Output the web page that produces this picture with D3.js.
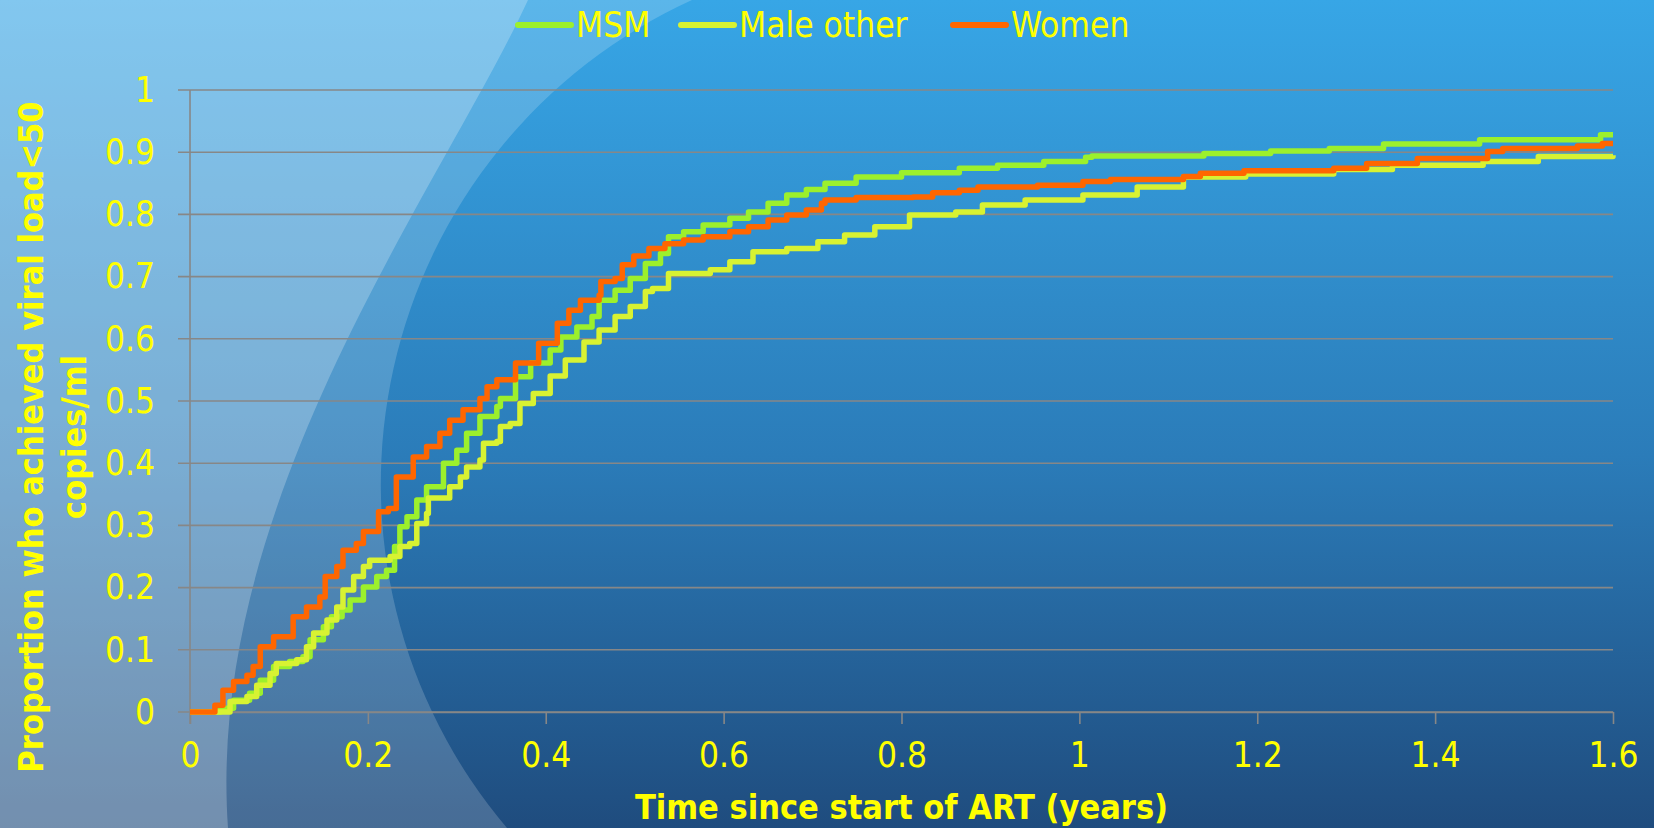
<!DOCTYPE html>
<html>
<head>
<meta charset="utf-8">
<script src="https://cdn.jsdelivr.net/npm/d3@7"></script>
<style>
	body { margin: 0; overflow: hidden; background: #2a78b5; }
	text { font-family: "DejaVu Sans Condensed", "DejaVu Sans", sans-serif; font-stretch: condensed; }
</style>
</head>
<body>
<div id="chartDiv"></div>
<script>
// values (time in years, proportion < 50 copies/ml)
var seriesNames = ["MSM", "Male other", "Women"];
var seriesColors = ["#9cf02c", "#d8f232", "#ff6600"];

var msmData = [
	[0, 0], [0.034, 0.006], [0.049, 0.019], [0.067, 0.030], [0.079, 0.051], [0.094, 0.073],
	[0.112, 0.081], [0.127, 0.089], [0.135, 0.116], [0.150, 0.137], [0.159, 0.153], [0.171, 0.164],
	[0.180, 0.180], [0.195, 0.201], [0.210, 0.218], [0.221, 0.228], [0.230, 0.266], [0.236, 0.298],
	[0.244, 0.314], [0.255, 0.341], [0.266, 0.362], [0.285, 0.400], [0.300, 0.421], [0.311, 0.448],
	[0.326, 0.475], [0.345, 0.491], [0.349, 0.504], [0.366, 0.539], [0.383, 0.561], [0.405, 0.582],
	[0.417, 0.603], [0.435, 0.619], [0.452, 0.636], [0.460, 0.662], [0.478, 0.678], [0.495, 0.697],
	[0.512, 0.721], [0.529, 0.737], [0.538, 0.764], [0.555, 0.772], [0.577, 0.783], [0.607, 0.794],
	[0.628, 0.804], [0.650, 0.818], [0.671, 0.831], [0.693, 0.840], [0.714, 0.850], [0.749, 0.860],
	[0.800, 0.867], [0.865, 0.874], [0.908, 0.879], [0.960, 0.885], [1.007, 0.892], [1.014, 0.894],
	[1.140, 0.898], [1.215, 0.902], [1.281, 0.906], [1.342, 0.913], [1.450, 0.920], [1.586, 0.928],
	[1.600, 0.928]
];

var maleOtherData = [
	[0, 0], [0.022, 0], [0.045, 0.017], [0.064, 0.025], [0.075, 0.043], [0.090, 0.062],
	[0.097, 0.078], [0.120, 0.084], [0.131, 0.105], [0.139, 0.127], [0.154, 0.148], [0.165, 0.169],
	[0.172, 0.196], [0.184, 0.218], [0.195, 0.234], [0.202, 0.244], [0.225, 0.250], [0.236, 0.266],
	[0.247, 0.271], [0.255, 0.303], [0.266, 0.319], [0.268, 0.344], [0.285, 0.344], [0.292, 0.362],
	[0.304, 0.378], [0.311, 0.394], [0.326, 0.405], [0.330, 0.432], [0.345, 0.435], [0.349, 0.459],
	[0.360, 0.464], [0.371, 0.496], [0.386, 0.512], [0.405, 0.540], [0.422, 0.566], [0.443, 0.595],
	[0.460, 0.614], [0.478, 0.636], [0.495, 0.652], [0.512, 0.676], [0.520, 0.681], [0.538, 0.705],
	[0.585, 0.711], [0.607, 0.724], [0.633, 0.740], [0.671, 0.745], [0.706, 0.756], [0.736, 0.767],
	[0.770, 0.780], [0.809, 0.799], [0.861, 0.804], [0.891, 0.815], [0.939, 0.823], [1.004, 0.831],
	[1.065, 0.844], [1.117, 0.860], [1.187, 0.865], [1.286, 0.872], [1.352, 0.879], [1.454, 0.885],
	[1.516, 0.893], [1.600, 0.895]
];

var womenData = [
	[0, 0], [0.028, 0.011], [0.037, 0.035], [0.049, 0.049], [0.064, 0.059], [0.071, 0.073],
	[0.079, 0.105], [0.094, 0.121], [0.116, 0.153], [0.131, 0.169], [0.146, 0.185], [0.152, 0.218],
	[0.165, 0.234], [0.172, 0.260], [0.187, 0.271], [0.195, 0.290], [0.212, 0.322], [0.223, 0.327],
	[0.232, 0.378], [0.251, 0.410], [0.266, 0.427], [0.281, 0.448], [0.292, 0.469], [0.307, 0.486],
	[0.326, 0.504], [0.334, 0.523], [0.345, 0.534], [0.366, 0.561], [0.392, 0.593], [0.413, 0.625],
	[0.426, 0.646], [0.439, 0.662], [0.460, 0.670], [0.462, 0.692], [0.478, 0.697], [0.486, 0.719],
	[0.499, 0.733], [0.516, 0.745], [0.534, 0.753], [0.555, 0.759], [0.577, 0.764], [0.607, 0.772],
	[0.628, 0.780], [0.650, 0.791], [0.671, 0.799], [0.693, 0.807], [0.710, 0.818], [0.714, 0.823],
	[0.749, 0.827], [0.813, 0.828], [0.835, 0.835], [0.865, 0.839], [0.886, 0.844], [0.953, 0.847],
	[1.004, 0.853], [1.035, 0.856], [1.117, 0.861], [1.136, 0.866], [1.185, 0.870], [1.286, 0.874],
	[1.323, 0.882], [1.380, 0.890], [1.459, 0.901], [1.476, 0.906], [1.560, 0.910], [1.588, 0.914],
	[1.600, 0.914]
];

var xTickValues = [0, 0.2, 0.4, 0.6, 0.8, 1, 1.2, 1.4, 1.6];
var xTickLabels = ["0", "0.2", "0.4", "0.6", "0.8", "1", "1.2", "1.4", "1.6"];
var yTickValues = [0, 0.1, 0.2, 0.3, 0.4, 0.5, 0.6, 0.7, 0.8, 0.9, 1];
var yTickLabels = ["0", "0.1", "0.2", "0.3", "0.4", "0.5", "0.6", "0.7", "0.8", "0.9", "1"];

var xAxisLabelHeader = "Time since start of ART (years)";
var yAxisLabelLines = ["Proportion who achieved viral load<50", "copies/ml"];

;(function() {

	var width = 1654;
	var height = 828;
	var margin = { top: 90, right: 41, bottom: 116, left: 190 };
	var gridColor = "#878787";
	var textColor = "#ffff00";

	var chart;
	var chartWidth;
	var chartHeight;

	init();

	function init() {
		chartWidth = width - margin.left - margin.right;
		chartHeight = height - margin.top - margin.bottom;

		initializeChart();
		drawBackground();
		createAxes();
		drawLines();
		addLegend();
	}

	function initializeChart() {
		chart = d3.select("#chartDiv").append("svg")
			.attr("width", width)
			.attr("height", height);
	}

	function drawBackground() {
		var defs = chart.append("defs");
		var grad = defs.append("linearGradient")
			.attr("id", "bgGrad")
			.attr("x1", 0).attr("y1", 0)
			.attr("x2", 0).attr("y2", 1);
		grad.append("stop").attr("offset", "0%").attr("stop-color", "#37a6e6");
		grad.append("stop").attr("offset", "55%").attr("stop-color", "#2b7cb9");
		grad.append("stop").attr("offset", "100%").attr("stop-color", "#1f4c7e");

		chart.append("rect")
			.attr("width", width)
			.attr("height", height)
			.attr("fill", "url(#bgGrad)");

		// outer swoosh: edge is a circle arc (centre ~913,484, r 532)
		chart.append("path")
			.attr("d", "M0,0L692,0A532,532 0 0,0 507,828L0,828Z")
			.attr("fill", "#ffffff")
			.attr("fill-opacity", 0.18);

		// inner swoosh
		chart.append("path")
			.attr("d", "M0,0L528,0C440,190 205,500 228,828L0,828Z")
			.attr("fill", "#ffffff")
			.attr("fill-opacity", 0.24);
	}

	function createAxes() {
		chart.xScale = d3.scaleLinear()
			.domain([0, 1.6])
			.range([margin.left, margin.left + chartWidth]);

		chart.yScale = d3.scaleLinear()
			.domain([0, 1])
			.range([margin.top + chartHeight, margin.top]);

		// horizontal grid lines (also the little ticks left of the axis)
		chart.append("g")
			.attr("class", "grid")
			.selectAll("line")
			.data(yTickValues)
			.enter().append("line")
				.attr("x1", margin.left - 12)
				.attr("x2", margin.left + chartWidth)
				.attr("y1", function(d) { return chart.yScale(d); })
				.attr("y2", function(d) { return chart.yScale(d); })
				.attr("stroke", gridColor)
				.attr("stroke-width", 1.6);

		// x axis
		chart.xAxis = d3.axisBottom(chart.xScale)
			.tickValues(xTickValues)
			.tickFormat(function(d, i) { return xTickLabels[i]; })
			.tickSizeInner(12)
			.tickSizeOuter(0)
			.tickPadding(18);

		var xg = chart.append("g")
			.attr("class", "x axis")
			.attr("transform", "translate(0," + (margin.top + chartHeight) + ")")
			.call(chart.xAxis);
		xg.select(".domain").attr("stroke", gridColor).attr("stroke-width", 1.6);
		xg.selectAll(".tick line").attr("stroke", gridColor).attr("stroke-width", 1.6);
		xg.selectAll(".tick text")
			.attr("fill", textColor)
			.style("font-size", "35px");

		// y axis
		chart.yAxis = d3.axisLeft(chart.yScale)
			.tickValues(yTickValues)
			.tickFormat(function(d, i) { return yTickLabels[i]; })
			.tickSize(0)
			.tickPadding(35);

		var yg = chart.append("g")
			.attr("class", "y axis")
			.attr("transform", "translate(" + margin.left + ",0)")
			.call(chart.yAxis);
		yg.select(".domain").remove();
		yg.selectAll(".tick text")
			.attr("fill", textColor)
			.style("font-size", "35px");

		chart.append("line")
			.attr("x1", margin.left).attr("x2", margin.left)
			.attr("y1", margin.top).attr("y2", margin.top + chartHeight + 12)
			.attr("stroke", gridColor)
			.attr("stroke-width", 1.6);

		// x axis header label
		chart.append("text")
			.attr("text-anchor", "middle")
			.attr("x", margin.left + chartWidth / 2)
			.attr("y", 819)
			.attr("fill", textColor)
			.style("font-size", "34px")
			.style("font-weight", "bold")
			.text(xAxisLabelHeader);

		// y axis header label, two lines
		var yTitle = chart.append("text")
			.attr("text-anchor", "middle")
			.attr("transform", "translate(43,437) rotate(-90)")
			.attr("fill", textColor)
			.style("font-size", "34px")
			.style("font-weight", "bold");
		yTitle.selectAll("tspan")
			.data(yAxisLabelLines)
			.enter().append("tspan")
				.attr("x", 0)
				.attr("dy", function(d, i) { return i === 0 ? 0 : 43; })
				.text(function(d) { return d; });
	}

	function drawLines() {
		var allSeries = [msmData, maleOtherData, womenData];
		var line = d3.line()
			.curve(d3.curveStepAfter)
			.x(function(d) { return chart.xScale(d[0]); })
			.y(function(d) { return chart.yScale(d[1]); });

		chart.append("g")
			.attr("class", "lines")
			.selectAll("path")
			.data(allSeries)
			.enter().append("path")
				.attr("d", line)
				.attr("fill", "none")
				.attr("stroke", function(d, i) { return seriesColors[i]; })
				.attr("stroke-width", 5.5)
				.attr("stroke-linejoin", "round");
	}

	function addLegend() {
		var legendX = [518, 681, 953];
		var legend = chart.append("g").attr("class", "legend");

		var items = legend.selectAll("g")
			.data(seriesNames)
			.enter().append("g")
				.attr("transform", function(d, i) { return "translate(" + legendX[i] + ",0)"; });

		items.append("line")
			.attr("x1", 0).attr("x2", 53)
			.attr("y1", 25).attr("y2", 25)
			.attr("stroke", function(d, i) { return seriesColors[i]; })
			.attr("stroke-width", 6)
			.attr("stroke-linecap", "round");

		items.append("text")
			.attr("x", 58)
			.attr("y", 37)
			.attr("fill", textColor)
			.style("font-size", "35px")
			.text(function(d) { return d; });
	}
})();
</script>
</body>
</html>
